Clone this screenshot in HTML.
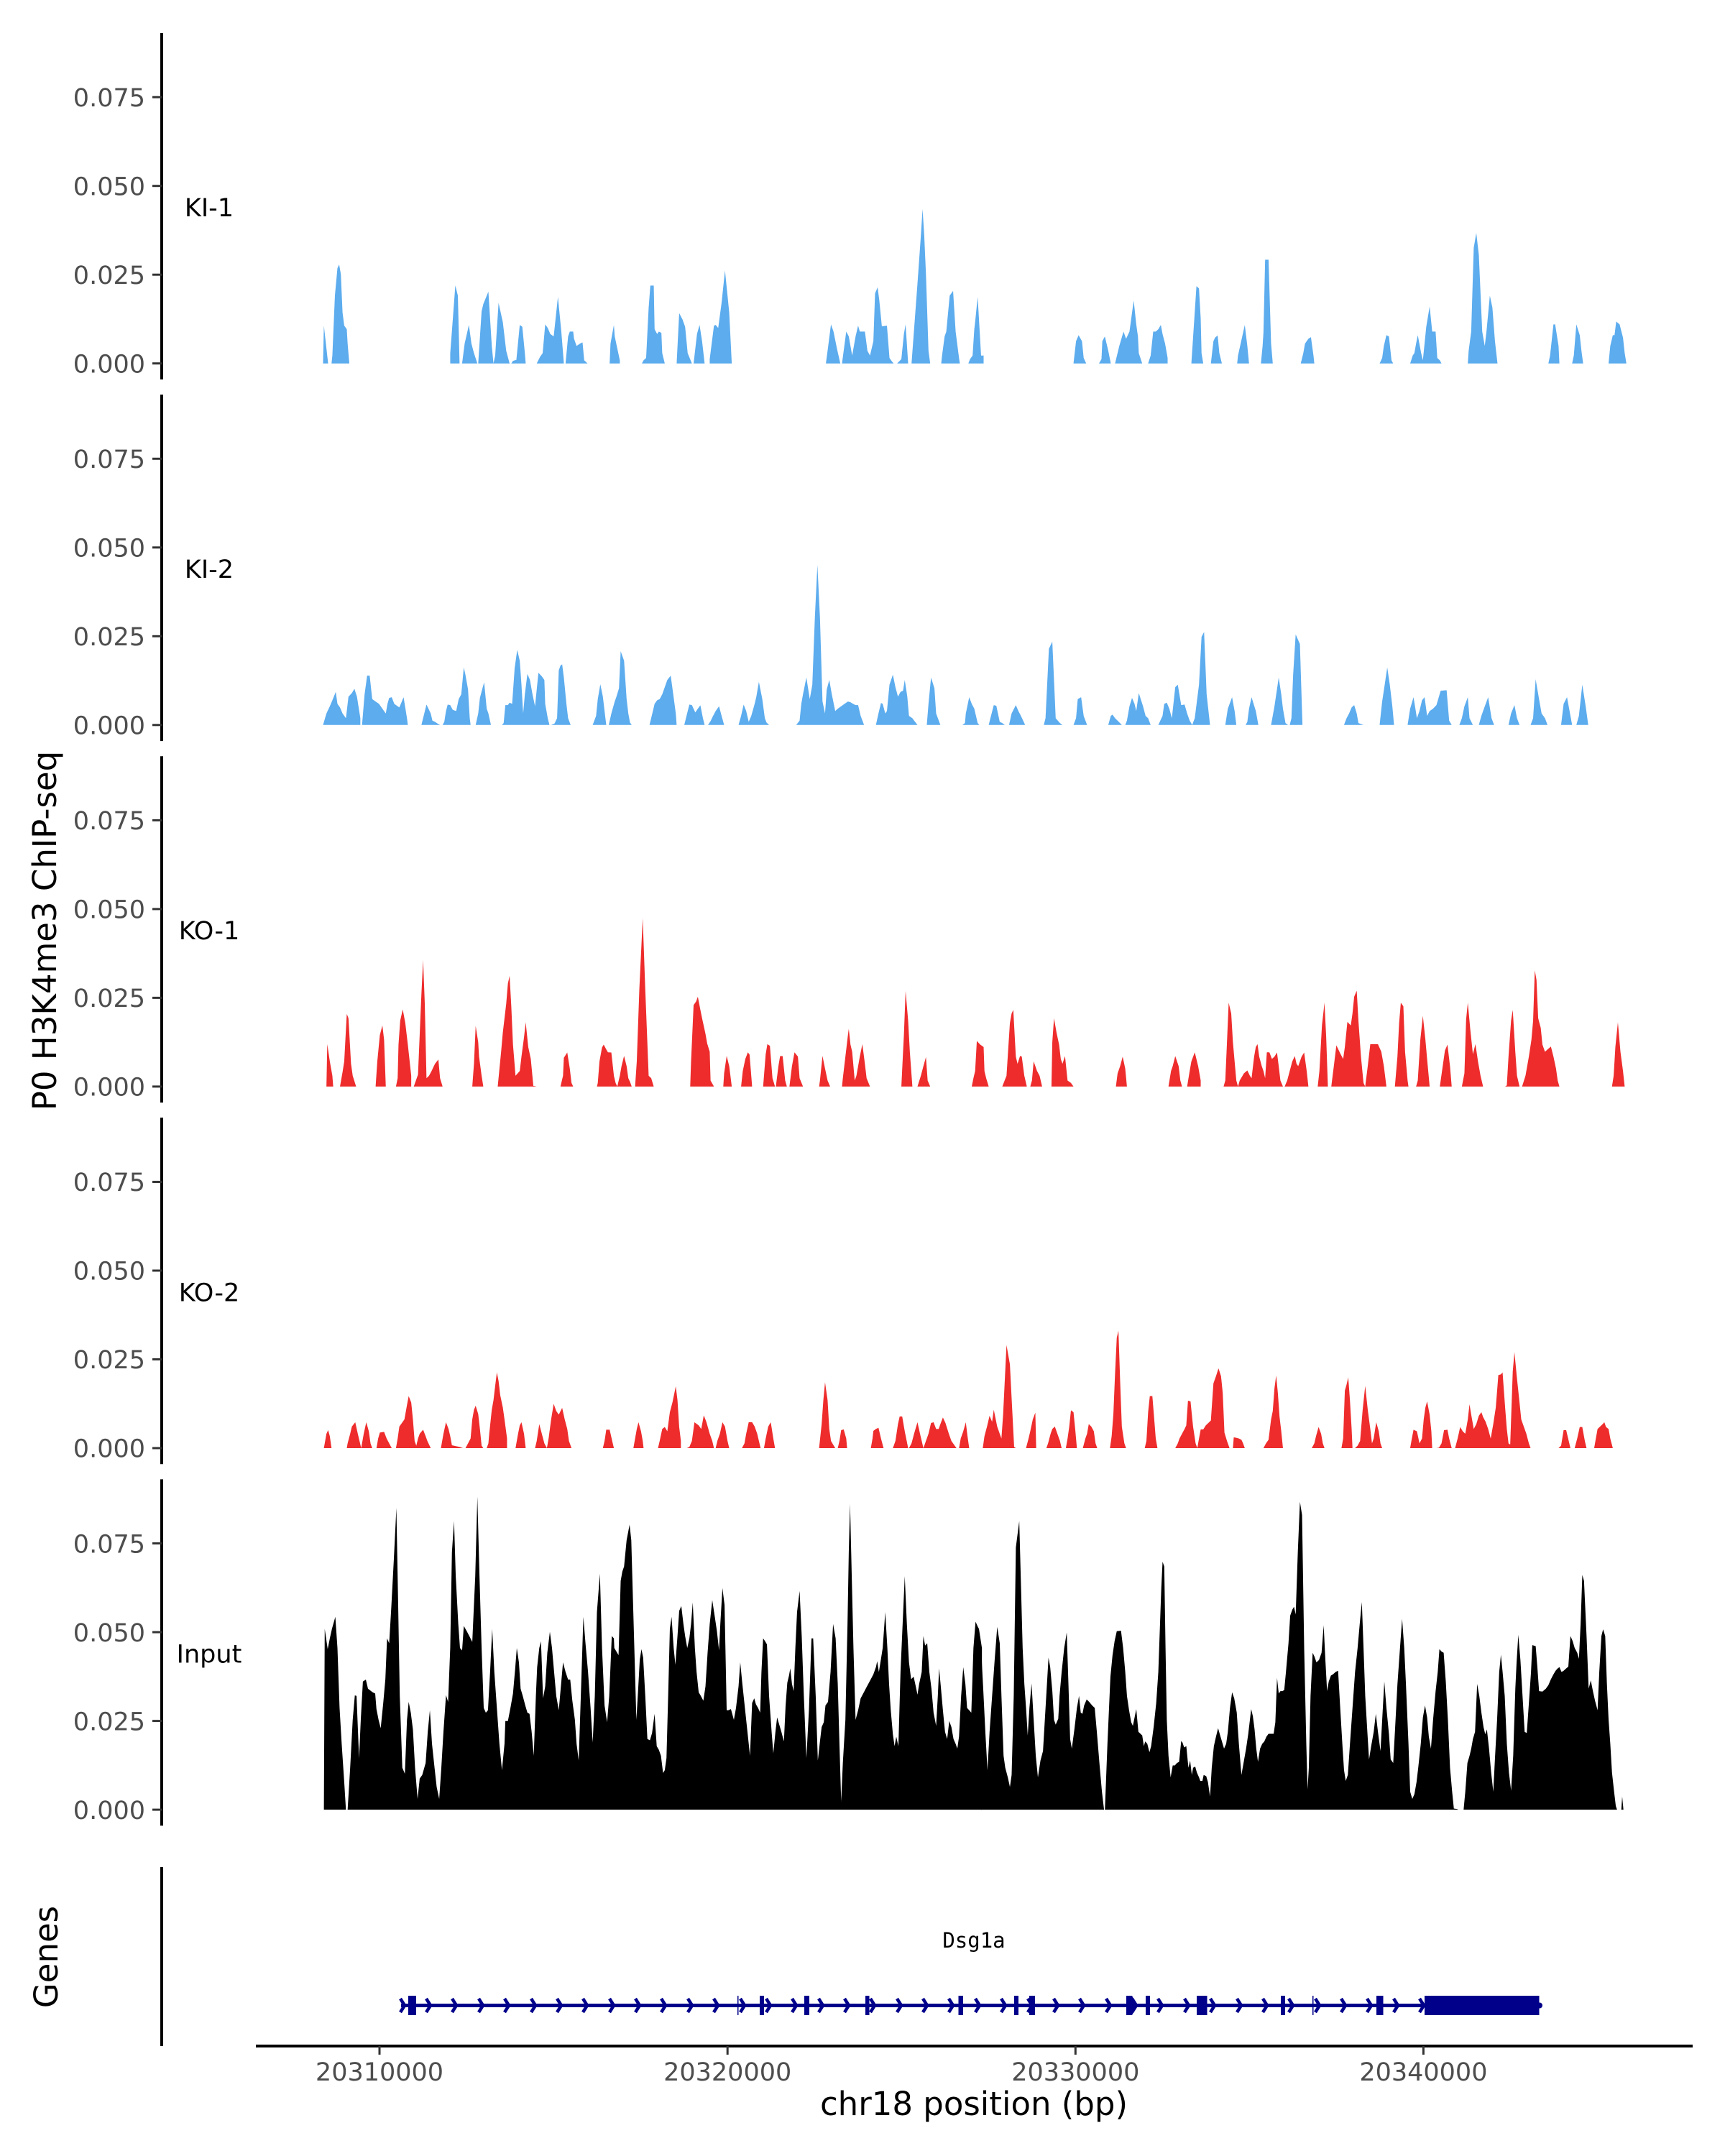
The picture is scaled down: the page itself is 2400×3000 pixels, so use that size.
<!DOCTYPE html>
<html>
<head>
<meta charset="utf-8">
<style>
html,body{margin:0;padding:0;background:#fff;}
svg{display:block;}
text{font-family:"DejaVu Sans","Liberation Sans",sans-serif;}
.tl{font-size:35px;fill:#4d4d4d;text-anchor:end;}
.xl{font-size:35px;fill:#4d4d4d;text-anchor:middle;}
.pl{font-size:35px;fill:#000;text-anchor:middle;}
.ti{font-size:45px;fill:#000;text-anchor:middle;}
.ax{stroke:#000;stroke-width:4;fill:none;}
.tk{stroke:#333;stroke-width:3;fill:none;}
.chev{stroke:#00008B;stroke-width:4.5;fill:none;}
</style>
</head>
<body>
<svg width="2400" height="3000" viewBox="0 0 2400 3000" xmlns="http://www.w3.org/2000/svg">
<rect x="0" y="0" width="2400" height="3000" fill="#fff"/>

<text class="ti" transform="translate(78,1295) rotate(-90)">P0 H3K4me3 ChIP-seq</text>
<text class="ti" transform="translate(80,2723) rotate(-90)">Genes</text>

<g>
<line class="ax" x1="225" y1="46" x2="225" y2="528"/>
<line class="ax" x1="225" y1="549.1" x2="225" y2="1031.1"/>
<line class="ax" x1="225" y1="1052.2" x2="225" y2="1534.2"/>
<line class="ax" x1="225" y1="1555.3" x2="225" y2="2037.3"/>
<line class="ax" x1="225" y1="2058.4" x2="225" y2="2540.4"/>
<line class="ax" x1="225" y1="2598" x2="225" y2="2847"/>
</g>

<g class="tk">
<line x1="212" y1="505.7" x2="225" y2="505.7"/><line x1="212" y1="382.2" x2="225" y2="382.2"/><line x1="212" y1="258.7" x2="225" y2="258.7"/><line x1="212" y1="135.2" x2="225" y2="135.2"/>
<line x1="212" y1="1008.8" x2="225" y2="1008.8"/><line x1="212" y1="885.3" x2="225" y2="885.3"/><line x1="212" y1="761.8" x2="225" y2="761.8"/><line x1="212" y1="638.3" x2="225" y2="638.3"/>
<line x1="212" y1="1511.9" x2="225" y2="1511.9"/><line x1="212" y1="1388.4" x2="225" y2="1388.4"/><line x1="212" y1="1264.9" x2="225" y2="1264.9"/><line x1="212" y1="1141.4" x2="225" y2="1141.4"/>
<line x1="212" y1="2015" x2="225" y2="2015"/><line x1="212" y1="1891.5" x2="225" y2="1891.5"/><line x1="212" y1="1768" x2="225" y2="1768"/><line x1="212" y1="1644.5" x2="225" y2="1644.5"/>
<line x1="212" y1="2518.1" x2="225" y2="2518.1"/><line x1="212" y1="2394.6" x2="225" y2="2394.6"/><line x1="212" y1="2271.1" x2="225" y2="2271.1"/><line x1="212" y1="2147.6" x2="225" y2="2147.6"/>
</g>

<g>
<text class="tl" x="202" y="518.4">0.000</text><text class="tl" x="202" y="394.9">0.025</text><text class="tl" x="202" y="271.4">0.050</text><text class="tl" x="202" y="147.9">0.075</text>
<text class="tl" x="202" y="1021.5">0.000</text><text class="tl" x="202" y="898">0.025</text><text class="tl" x="202" y="774.5">0.050</text><text class="tl" x="202" y="651">0.075</text>
<text class="tl" x="202" y="1524.6">0.000</text><text class="tl" x="202" y="1401.1">0.025</text><text class="tl" x="202" y="1277.6">0.050</text><text class="tl" x="202" y="1154.1">0.075</text>
<text class="tl" x="202" y="2027.7">0.000</text><text class="tl" x="202" y="1904.2">0.025</text><text class="tl" x="202" y="1780.7">0.050</text><text class="tl" x="202" y="1657.2">0.075</text>
<text class="tl" x="202" y="2530.8">0.000</text><text class="tl" x="202" y="2407.3">0.025</text><text class="tl" x="202" y="2283.8">0.050</text><text class="tl" x="202" y="2160.3">0.075</text>
</g>

<text class="pl" x="291" y="301">KI-1</text>
<text class="pl" x="291" y="804.1">KI-2</text>
<text class="pl" x="291" y="1307.2">KO-1</text>
<text class="pl" x="291" y="1810.3">KO-2</text>
<text class="pl" x="291" y="2313.4">Input</text>

<g transform="translate(440,261.4) scale(1.1798,0.33333)">
<polygon fill="#5CACEE" points="8,733 9,575 14,733 18,733 19,700 22,450 25,335 27,320 29,360 31,520 33,575 36,590 37,650 39,733 158,733 158,690 161,550 164,407 167,450 169,733 172,733 175,650 180,572 183,650 186,690 190,733 191,733 195,515 197,485 203,433 207,660 209,733 211,700 215,480 220,560 224,680 228,733 230,733 232,722 236,718 240,572 243,580 246,690 247,733 260,733 264,705 267,690 270,570 273,585 276,610 280,620 285,455 289,600 292,733 294,733 297,620 299,600 303,600 304,630 307,660 311,650 314,645 316,720 320,733 346,733 347,650 351,572 352,620 358,720 358,733 384,733 386,720 389,710 392,500 394,408 398,408 399,590 402,610 404,600 407,605 408,690 411,733 414,733 425,733 428,523 432,550 435,580 438,690 443,733 445,733 449,610 452,572 455,640 458,733 464,733 464,715 469,575 471,572 474,585 478,480 482,345 487,520 490,733 601,733 603,680 607,570 610,600 614,670 618,733 620,733 625,600 628,620 632,700 636,620 639,575 641,600 647,600 650,680 653,700 657,640 659,440 662,415 664,470 667,578 673,575 676,710 679,725 681,733 685,733 690,715 693,610 695,570 698,733 702,733 709,400 713,200 715,88 717,200 719,360 722,680 724,733 737,733 738,700 741,620 743,600 747,450 751,430 754,600 758,710 759,733 769,733 771,715 774,700 776,590 777,560 780,455 784,700 787,700 787,733 893,733 896,640 899,615 903,640 905,710 908,733 923,733 926,715 927,640 930,620 934,680 937,733 942,733 947,660 952,600 955,630 959,600 964,470 967,570 969,620 970,690 974,733 981,733 984,700 987,600 990,600 993,590 996,572 998,610 1001,650 1004,710 1004,733 1032,733 1038,410 1041,420 1043,545 1044,690 1046,733 1055,733 1058,640 1060,625 1063,616 1065,690 1068,733 1086,733 1087,700 1092,620 1095,572 1098,660 1100,733 1114,733 1116,660 1117,605 1119,300 1123,300 1126,650 1128,733 1130,733 1161,733 1164,690 1166,650 1168,640 1170,630 1173,623 1176,700 1177,733 1254,733 1257,710 1259,660 1262,615 1265,620 1268,720 1270,733 1290,733 1293,700 1295,690 1297,650 1299,615 1303,690 1305,720 1309,580 1313,495 1316,600 1320,600 1322,710 1325,720 1327,733 1358,733 1359,680 1362,600 1365,250 1368,188 1371,280 1375,600 1378,660 1380,600 1384,450 1387,500 1390,640 1393,733 1453,733 1455,700 1459,570 1461,570 1465,660 1466,733 1481,733 1483,700 1486,570 1490,615 1492,680 1494,733 1524,733 1526,660 1529,615 1531,615 1533,558 1537,570 1541,625 1543,690 1545,733"/>
</g>

<g transform="translate(440,766.1) scale(1.1798,0.33333)">
<polygon fill="#5CACEE" points="8,728 12,680 16,650 19,625 23,590 25,640 28,655 31,680 35,700 38,610 42,595 45,577 48,610 52,700 52,728 54,728 57,600 60,522 63,522 66,620 70,630 74,640 78,660 82,680 84,640 86,615 89,612 92,640 96,650 98,655 103,612 107,700 108,728 124,728 126,700 130,643 135,680 137,710 140,715 143,722 146,728 149,728 151,715 153,670 155,643 158,645 161,665 165,670 168,620 171,600 174,488 176,520 179,580 181,700 182,728 188,728 191,680 193,615 196,575 198,550 201,660 203,680 206,728 219,728 221,720 223,645 226,645 228,635 231,640 234,490 237,415 240,460 242,560 244,680 246,600 249,515 252,540 255,600 258,650 262,510 266,525 269,540 270,640 273,700 275,728 277,728 281,722 284,700 286,500 288,480 290,475 292,530 295,640 297,700 300,728 326,728 330,690 332,620 335,558 338,610 341,700 342,728 345,728 348,680 352,630 354,610 357,575 359,420 363,460 366,620 368,680 370,718 372,728 393,728 397,670 399,640 402,625 405,620 408,600 411,570 414,540 418,522 421,600 424,680 425,728 434,728 437,685 440,643 443,645 447,676 450,660 453,646 456,700 458,728 462,728 465,712 468,690 471,670 475,650 478,690 481,728 498,728 501,690 504,643 507,670 510,715 513,690 517,640 519,610 522,548 526,620 529,700 531,718 534,728 566,728 570,710 572,640 574,600 578,530 582,620 585,560 588,280 591,60 594,280 597,630 600,680 602,580 605,540 608,600 612,670 615,660 619,650 623,640 627,630 630,633 633,640 636,645 639,645 642,690 646,728 660,728 663,680 666,636 668,640 671,680 673,670 676,560 680,518 683,570 686,610 689,590 692,585 694,540 697,610 699,690 703,700 709,728 720,728 722,640 725,530 729,575 731,680 736,728 762,728 765,720 766,680 770,612 773,640 776,660 780,720 782,728 793,728 795,700 799,645 802,648 806,715 809,720 812,728 817,728 820,680 825,645 828,670 831,690 836,728 858,728 860,700 864,410 868,380 872,700 877,720 880,728 893,728 896,700 898,620 902,612 905,690 909,728 934,728 937,690 939,685 942,700 945,710 950,728 954,728 956,710 959,650 962,615 965,640 967,670 970,595 975,650 978,690 981,700 984,728 993,728 998,690 1000,640 1003,635 1006,660 1009,700 1013,570 1016,560 1020,645 1024,643 1027,680 1030,710 1033,728 1036,700 1041,560 1044,360 1047,340 1050,600 1054,728 1072,728 1075,660 1080,612 1083,670 1085,728 1096,728 1098,715 1100,660 1103,612 1108,670 1111,728 1126,728 1130,650 1133,578 1135,530 1138,600 1140,660 1143,720 1146,728 1148,728 1150,700 1152,520 1155,350 1160,390 1163,728 1212,728 1215,700 1218,680 1221,655 1224,645 1227,680 1229,720 1235,728 1254,728 1257,630 1260,560 1263,488 1266,560 1269,650 1271,728 1287,728 1290,660 1294,612 1298,700 1301,670 1304,625 1307,612 1310,690 1313,670 1317,660 1321,645 1326,585 1333,583 1336,710 1339,728 1348,728 1351,700 1354,650 1358,612 1360,700 1364,728 1371,728 1374,690 1377,660 1382,612 1386,700 1389,728 1406,728 1409,680 1413,645 1416,700 1419,728 1432,728 1435,700 1438,537 1442,620 1445,680 1449,700 1452,728 1468,728 1471,640 1475,612 1478,670 1481,728 1486,728 1489,690 1493,560 1497,650 1500,728"/>
</g>

<g transform="translate(440,1270.2) scale(1.1798,0.33333)">
<polygon fill="#EE2C2C" points="12,725 13,548 16,620 19,680 20,725 28,725 31,665 33,620 36,422 38,440 41,630 43,680 47,725 70,725 72,620 75,510 78,470 80,530 82,725 94,725 96,690 97,550 99,450 102,403 105,460 107,520 108,550 112,680 112,725 115,725 120,675 124,340 126,197 128,380 130,690 133,680 136,660 140,630 144,612 146,690 149,725 184,725 186,630 188,472 191,540 192,600 195,680 197,725 214,725 218,580 220,500 224,380 226,295 228,263 230,390 232,550 235,680 240,660 242,600 245,520 247,457 250,560 253,610 256,722 260,725 288,725 291,680 292,605 296,583 299,650 301,710 303,725 331,725 332,710 334,620 337,562 339,550 342,570 344,582 348,583 351,680 353,710 355,725 358,680 360,640 363,597 366,640 368,690 370,705 372,725 376,725 378,620 381,320 385,22 388,320 392,680 395,690 398,725 441,725 442,620 445,385 448,370 450,350 453,405 455,440 459,505 461,545 464,580 465,700 469,725 480,725 481,670 484,597 487,640 490,725 501,725 503,660 506,610 509,582 511,592 514,725 527,725 530,590 532,548 535,555 538,690 541,725 542,725 545,640 547,598 550,598 553,700 555,725 558,725 561,640 564,582 568,600 570,690 574,725 593,725 594,700 597,597 600,650 603,700 606,725 620,725 621,690 624,600 627,510 628,484 630,550 632,580 635,700 637,680 641,600 644,548 647,630 649,690 653,725 690,725 692,580 693,510 695,326 698,450 700,580 703,725 709,725 713,680 716,640 719,602 721,700 724,725 773,725 775,690 777,660 779,535 783,550 787,560 788,660 790,690 793,725 809,725 814,680 818,460 820,420 822,405 825,600 827,630 830,597 832,600 835,680 838,725 842,725 844,700 846,620 848,640 850,660 853,680 856,725 867,725 868,540 870,440 873,500 876,550 878,610 880,630 883,598 886,700 890,710 893,725 943,725 945,670 948,640 951,600 954,650 956,725 1005,725 1008,660 1010,640 1013,598 1017,640 1019,700 1021,725 1027,725 1030,660 1032,620 1036,582 1040,640 1043,700 1043,725 1070,725 1072,700 1074,540 1076,375 1079,420 1081,540 1085,700 1087,725 1089,700 1094,670 1098,658 1101,680 1103,690 1106,600 1108,560 1110,548 1112,600 1115,640 1117,660 1119,690 1121,582 1124,582 1127,610 1130,600 1133,583 1135,640 1137,700 1140,725 1142,725 1145,700 1148,660 1151,620 1154,598 1156,630 1158,640 1162,600 1165,583 1168,660 1170,725 1181,725 1183,660 1186,470 1189,375 1191,520 1193,725 1197,725 1200,640 1203,553 1208,590 1211,610 1213,560 1216,455 1220,470 1222,420 1224,350 1227,325 1229,450 1232,600 1235,710 1237,725 1240,640 1243,548 1252,548 1256,580 1259,640 1262,725 1272,725 1275,600 1277,460 1279,375 1282,390 1284,580 1287,700 1288,725 1297,725 1299,700 1302,530 1305,430 1308,530 1310,610 1313,725 1325,725 1328,650 1331,575 1334,550 1337,640 1339,725 1351,725 1354,670 1356,445 1358,375 1361,490 1364,590 1367,548 1370,620 1373,680 1376,725 1402,725 1404,720 1406,600 1409,450 1411,405 1414,580 1416,680 1419,725 1422,725 1426,680 1430,600 1433,530 1435,450 1437,240 1439,280 1441,440 1444,480 1446,550 1449,580 1452,570 1456,558 1459,600 1462,650 1464,700 1466,725 1528,725 1530,680 1532,560 1535,457 1538,580 1541,660 1543,725"/>
</g>

<g transform="translate(440,1775) scale(1.1798,0.33333)">
<polygon fill="#EE2C2C" points="9,720 12,660 14,645 16,670 18,720 36,720 37,700 40,660 42,630 46,612 49,660 53,720 56,660 59,612 62,650 64,700 66,720 71,720 73,680 75,655 80,652 83,680 86,700 89,720 94,720 96,680 98,630 101,615 104,600 107,540 109,503 112,530 114,600 116,690 118,710 120,680 122,660 126,643 129,670 131,690 135,720 147,720 150,660 153,612 156,640 158,670 160,708 165,712 169,715 173,720 176,720 179,700 182,680 184,600 186,560 188,543 191,578 193,640 195,710 197,720 201,720 203,700 204,660 207,560 209,520 211,460 213,404 215,440 217,500 220,550 222,600 225,680 225,720 235,720 238,660 240,625 242,612 245,660 247,720 258,720 260,690 263,620 266,660 269,700 272,720 274,680 277,600 280,535 283,565 286,580 290,552 293,600 296,640 298,690 301,720 338,720 340,690 342,643 346,643 349,690 351,720 374,720 376,680 378,640 380,612 383,650 385,690 386,720 403,720 405,690 408,640 411,632 414,650 417,570 420,530 424,462 426,520 428,632 430,690 430,720 437,720 440,715 443,690 446,612 451,625 454,640 457,583 460,610 464,660 467,690 469,720 471,720 473,690 476,660 479,612 482,630 485,690 487,720 502,720 505,700 507,660 510,612 514,612 517,630 520,660 522,690 524,720 528,720 530,680 533,630 536,612 539,680 541,720 593,720 596,620 598,520 600,445 603,520 605,640 607,690 612,720 615,720 617,690 619,645 622,642 625,680 626,720 654,720 656,680 657,648 660,640 663,635 666,680 669,720 680,720 683,690 686,620 688,588 691,588 694,650 698,720 699,720 702,700 705,660 709,612 712,660 716,720 719,690 722,660 725,615 728,612 731,640 734,640 736,620 739,592 742,615 746,660 749,690 752,705 755,720 758,720 760,680 763,650 766,612 768,670 770,720 786,720 788,670 791,630 794,585 797,610 799,560 803,630 806,660 808,680 810,580 814,290 818,370 820,510 823,715 825,720 837,720 840,680 842,650 845,600 848,572 849,720 851,720 861,720 863,700 866,660 868,640 871,630 874,660 877,690 879,720 884,720 886,680 888,630 890,562 893,570 895,640 897,720 904,720 907,680 909,660 911,620 914,630 917,650 919,700 921,720 936,720 938,670 940,580 942,410 944,260 946,230 948,440 950,630 953,700 955,720 977,720 979,690 981,570 983,503 986,503 988,590 990,680 992,720 1013,720 1016,700 1018,680 1021,660 1024,640 1026,625 1028,522 1031,525 1034,630 1037,700 1039,720 1041,680 1043,642 1046,642 1049,625 1052,615 1055,605 1058,450 1061,420 1064,387 1067,420 1069,490 1071,655 1074,690 1077,720 1081,720 1082,675 1085,677 1088,680 1091,685 1093,700 1095,720 1117,720 1120,700 1123,685 1126,600 1128,565 1130,470 1132,417 1134,490 1136,590 1138,650 1140,720 1174,720 1177,700 1179,670 1182,632 1185,660 1187,700 1189,720 1209,720 1211,680 1213,480 1215,455 1217,425 1219,520 1221,640 1222,720 1225,720 1228,710 1231,690 1234,560 1237,460 1240,560 1243,640 1245,700 1247,680 1250,612 1253,650 1255,700 1257,720 1290,720 1292,680 1294,643 1298,650 1301,700 1304,680 1306,600 1308,550 1310,525 1313,580 1315,650 1316,720 1321,720 1324,718 1327,700 1330,645 1334,643 1336,680 1339,720 1343,720 1346,680 1349,632 1352,650 1355,660 1358,600 1360,537 1362,580 1365,640 1368,620 1371,585 1374,570 1376,590 1379,610 1382,640 1385,680 1388,620 1391,550 1394,415 1397,412 1399,404 1402,550 1404,640 1406,700 1408,705 1411,400 1413,320 1416,430 1419,530 1421,600 1424,630 1427,660 1430,700 1432,720 1465,720 1468,710 1471,645 1474,645 1477,690 1479,720 1484,720 1487,680 1490,632 1493,632 1496,690 1498,720 1507,720 1509,680 1511,640 1514,630 1517,620 1519,612 1521,632 1524,640 1526,680 1529,720"/>
</g>

<g transform="translate(440,2059.8) scale(0.5899,0.33333)">
<polygon fill="#000" points="18,1375 20,620 27,705 32,660 37,620 45,570 50,700 55,950 60,1100 66,1260 70,1375 74,1375 80,1200 86,1000 91,898 95,900 101,1160 105,1000 110,840 117,832 122,870 128,878 133,885 139,890 142,955 147,1000 152,1035 158,930 163,830 167,660 172,680 177,530 183,330 189,115 193,500 197,900 203,1200 209,1225 214,1000 218,925 223,970 228,1040 233,1200 239,1330 244,1245 250,1230 258,1180 263,1050 268,960 273,1100 279,1200 284,1280 290,1330 295,1200 300,1050 306,897 311,925 316,700 320,300 325,170 329,400 335,600 339,700 344,710 348,608 355,630 361,650 368,675 375,400 380,68 385,400 390,700 395,950 400,970 405,960 410,800 415,620 420,800 426,950 432,1100 438,1210 444,1100 446,1005 452,1005 458,950 464,890 469,790 473,700 478,760 482,870 487,900 493,940 498,970 503,975 508,1050 513,1150 518,900 521,780 526,700 530,672 535,910 540,860 545,720 551,632 556,700 561,800 566,900 572,960 577,860 582,760 588,800 594,832 599,832 604,920 610,1000 614,1100 619,1170 624,900 630,570 635,680 641,800 647,950 652,1095 657,900 662,550 669,390 674,700 680,940 686,1010 691,900 697,650 702,660 703,700 708,715 713,730 718,420 722,380 726,360 732,250 739,185 743,250 747,500 751,750 755,1000 759,880 763,750 767,705 771,740 776,900 781,1080 787,1085 792,1055 798,975 803,1110 808,1125 813,1150 818,1222 822,1210 826,1160 830,900 834,620 838,570 843,700 847,770 852,650 856,545 861,525 866,600 870,650 875,700 880,660 884,600 888,510 893,700 897,800 902,885 907,900 913,920 918,860 923,720 928,600 934,500 940,570 945,630 950,710 953,600 958,450 963,520 968,960 972,960 978,955 985,1000 990,950 996,860 1000,760 1005,850 1011,950 1017,1050 1023,1150 1028,930 1033,910 1037,935 1042,950 1047,970 1050,800 1054,660 1058,670 1063,685 1068,900 1074,1050 1078,1140 1083,1050 1087,990 1092,1020 1097,1050 1103,1090 1107,940 1111,845 1115,815 1118,785 1122,850 1126,880 1130,700 1134,550 1140,462 1145,650 1150,900 1156,1160 1162,960 1168,660 1172,660 1178,900 1183,1170 1188,1090 1192,1030 1197,1010 1201,940 1207,925 1213,800 1219,600 1225,660 1230,850 1234,1100 1238,1340 1242,1180 1248,1000 1253,600 1256,300 1259,98 1263,400 1267,700 1272,1000 1278,960 1284,910 1290,890 1296,870 1302,850 1308,830 1314,810 1320,780 1323,755 1327,800 1332,745 1336,700 1342,550 1347,700 1351,850 1355,960 1360,1060 1364,1110 1368,1070 1373,1110 1378,800 1383,600 1388,400 1393,600 1398,760 1403,830 1409,820 1414,860 1418,895 1422,850 1428,800 1432,650 1436,690 1441,680 1446,800 1451,870 1456,970 1462,1025 1466,900 1469,785 1473,860 1478,960 1483,1050 1488,1080 1493,1005 1498,1030 1503,1080 1508,1100 1512,1120 1516,1070 1521,900 1526,780 1531,850 1535,950 1540,960 1545,970 1550,700 1555,590 1560,610 1563,620 1570,700 1570,1375"/>
</g>
<g transform="translate(1365,2059.8) scale(0.5899,0.33333)">
<polygon fill="#000" points="0,1375 0,700 5,870 10,1050 15,1210 20,1050 26,900 32,750 38,612 44,680 48,900 53,1150 57,1200 63,1240 68,1280 72,1230 77,900 82,280 90,170 95,500 98,700 102,850 106,950 110,1065 114,950 119,848 124,1000 129,1150 134,1240 140,1170 146,1130 152,950 159,740 163,780 168,880 172,1000 176,1020 182,995 185,900 190,800 196,700 202,635 206,850 210,1080 214,1120 220,1040 226,950 231,900 235,970 239,975 243,940 249,915 255,925 262,940 268,950 273,1050 280,1200 285,1300 290,1375 292,1375 298,1100 305,820 310,730 315,670 320,630 330,628 335,700 340,800 344,900 349,960 354,1010 358,1025 362,990 366,955 371,1050 377,1060 380,1065 384,1110 387,1090 392,1100 397,1135 401,1110 407,1030 413,930 418,800 422,600 425,450 428,340 432,360 435,700 438,1000 442,1150 447,1240 452,1190 457,1190 462,1180 467,1175 472,1088 475,1095 479,1115 484,1110 489,1200 493,1170 497,1230 500,1200 505,1195 509,1220 514,1240 517,1255 522,1255 525,1230 531,1235 535,1260 540,1320 544,1200 549,1110 554,1070 559,1035 563,1060 568,1090 573,1120 578,1100 582,1050 587,950 592,885 597,910 603,970 608,1100 614,1230 619,1180 625,1120 630,1060 634,1000 637,955 641,985 645,1040 649,1120 653,1175 658,1120 663,1100 668,1090 673,1070 678,1058 684,1058 690,1058 694,1010 698,825 702,890 706,880 711,880 715,875 719,800 725,680 729,565 734,540 738,528 742,560 747,300 752,90 757,145 762,700 767,1100 770,1290 773,1200 777,900 782,720 786,735 791,760 797,750 803,720 808,605 812,750 816,880 820,840 825,815 830,810 836,800 842,795 847,950 852,1100 856,1210 860,1255 865,1230 870,1100 876,950 882,800 888,700 893,600 898,508 902,700 906,900 911,1050 915,1165 920,1110 926,1050 931,975 936,1050 942,1130 946,1000 951,840 956,950 962,1060 966,1165 972,1180 976,1050 982,850 988,700 993,578 998,700 1002,850 1008,1100 1012,1300 1017,1330 1022,1310 1027,1260 1031,1200 1037,1100 1042,990 1047,940 1052,990 1056,1070 1061,1120 1066,1000 1072,880 1077,800 1081,705 1086,715 1091,720 1096,840 1101,1000 1106,1200 1111,1300 1115,1370 1122,1372 1126,1375 1138,1375 1142,1300 1147,1180 1152,1150 1156,1120 1160,1080 1165,1050 1170,850 1175,900 1180,970 1185,1030 1189,1060 1193,1040 1198,1120 1203,1220 1208,1300 1212,1160 1217,1000 1222,800 1226,728 1230,800 1235,900 1240,1100 1245,1220 1250,1295 1255,1150 1260,870 1263,760 1267,645 1272,750 1277,900 1282,1050 1287,1055 1292,930 1297,800 1300,688 1308,692 1312,780 1316,880 1324,882 1332,870 1338,855 1344,830 1350,810 1355,795 1360,785 1364,780 1369,800 1374,795 1380,785 1385,778 1390,650 1395,670 1400,700 1406,720 1410,745 1414,600 1418,395 1422,420 1428,650 1433,870 1438,835 1443,880 1448,920 1454,960 1458,800 1463,650 1467,622 1472,650 1476,850 1480,1000 1484,1100 1488,1220 1493,1300 1497,1360 1500,1375 1510,1375 1512,1320 1515,1375"/>
</g>

<text x="1355" y="2710" text-anchor="middle" style="font-family:'DejaVu Sans Mono','Liberation Mono',monospace;font-size:29px;fill:#000;">Dsg1a</text>
<line x1="558" y1="2790.5" x2="1984" y2="2790.5" stroke="#00008B" stroke-width="5"/>
<g class="chev">
<polyline points="557,2781 563,2790.5 557,2800"/>
<polyline points="593,2781 599,2790.5 593,2800"/>
<polyline points="629,2781 635,2790.5 629,2800"/>
<polyline points="666,2781 672,2790.5 666,2800"/>
<polyline points="702,2781 708,2790.5 702,2800"/>
<polyline points="739,2781 745,2790.5 739,2800"/>
<polyline points="775,2781 781,2790.5 775,2800"/>
<polyline points="811,2781 817,2790.5 811,2800"/>
<polyline points="848,2781 854,2790.5 848,2800"/>
<polyline points="884,2781 890,2790.5 884,2800"/>
<polyline points="920,2781 926,2790.5 920,2800"/>
<polyline points="957,2781 963,2790.5 957,2800"/>
<polyline points="993,2781 999,2790.5 993,2800"/>
<polyline points="1030,2781 1036,2790.5 1030,2800"/>
<polyline points="1066,2781 1072,2790.5 1066,2800"/>
<polyline points="1102,2781 1108,2790.5 1102,2800"/>
<polyline points="1139,2781 1145,2790.5 1139,2800"/>
<polyline points="1175,2781 1181,2790.5 1175,2800"/>
<polyline points="1211,2781 1217,2790.5 1211,2800"/>
<polyline points="1248,2781 1254,2790.5 1248,2800"/>
<polyline points="1284,2781 1290,2790.5 1284,2800"/>
<polyline points="1320,2781 1326,2790.5 1320,2800"/>
<polyline points="1357,2781 1363,2790.5 1357,2800"/>
<polyline points="1393,2781 1399,2790.5 1393,2800"/>
<polyline points="1430,2781 1436,2790.5 1430,2800"/>
<polyline points="1466,2781 1472,2790.5 1466,2800"/>
<polyline points="1502,2781 1508,2790.5 1502,2800"/>
<polyline points="1539,2781 1545,2790.5 1539,2800"/>
<polyline points="1575,2781 1581,2790.5 1575,2800"/>
<polyline points="1611,2781 1617,2790.5 1611,2800"/>
<polyline points="1648,2781 1654,2790.5 1648,2800"/>
<polyline points="1684,2781 1690,2790.5 1684,2800"/>
<polyline points="1721,2781 1727,2790.5 1721,2800"/>
<polyline points="1757,2781 1763,2790.5 1757,2800"/>
<polyline points="1793,2781 1799,2790.5 1793,2800"/>
<polyline points="1830,2781 1836,2790.5 1830,2800"/>
<polyline points="1866,2781 1872,2790.5 1866,2800"/>
<polyline points="1902,2781 1908,2790.5 1902,2800"/>
<polyline points="1939,2781 1945,2790.5 1939,2800"/>
<polyline points="1975,2781 1981,2790.5 1975,2800"/>
</g>
<g fill="#00008B">
<rect x="568" y="2777" width="11" height="27"/>
<rect x="1026" y="2777" width="1.5" height="27"/>
<rect x="1057" y="2777" width="6" height="27"/>
<rect x="1119" y="2777" width="7" height="27"/>
<rect x="1204" y="2777" width="5.5" height="27"/>
<rect x="1333.5" y="2777" width="6.5" height="27"/>
<rect x="1411" y="2777" width="6" height="27"/>
<rect x="1432" y="2777" width="8" height="27"/>
<polygon points="1567,2777 1575,2777 1582,2790.5 1575,2804 1567,2804"/>
<rect x="1594" y="2777" width="6" height="27"/>
<rect x="1665" y="2777" width="14.5" height="27"/>
<rect x="1782" y="2777" width="6" height="27"/>
<rect x="1826" y="2777" width="1.5" height="27"/>
<rect x="1915" y="2777" width="9.5" height="27"/>
<rect x="1982" y="2777" width="159.5" height="27"/>
<circle cx="2142" cy="2790.5" r="4"/>
</g>

<line x1="356" y1="2847" x2="2355" y2="2847" stroke="#000" stroke-width="4"/>
<g class="tk">
<line x1="528" y1="2847" x2="528" y2="2859"/>
<line x1="1012.2" y1="2847" x2="1012.2" y2="2859"/>
<line x1="1496.3" y1="2847" x2="1496.3" y2="2859"/>
<line x1="1980.4" y1="2847" x2="1980.4" y2="2859"/>
</g>
<text class="xl" x="528" y="2895">20310000</text>
<text class="xl" x="1012.2" y="2895">20320000</text>
<text class="xl" x="1496.3" y="2895">20330000</text>
<text class="xl" x="1980.4" y="2895">20340000</text>
<text class="ti" x="1355" y="2943">chr18 position (bp)</text>
</svg>
</body>
</html>
